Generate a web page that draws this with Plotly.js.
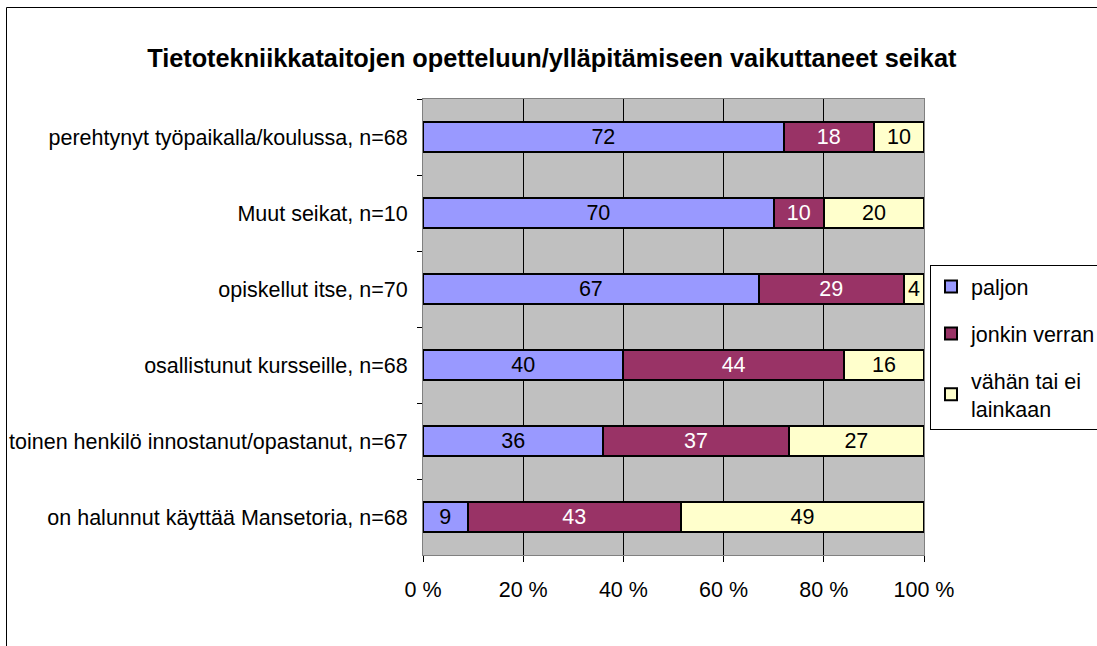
<!DOCTYPE html>
<html>
<head>
<meta charset="utf-8">
<script src="https://cdn.plot.ly/plotly-3.0.1.min.js"></script>
<style>
  html, body { margin: 0; padding: 0; background: #fff; overflow: hidden; }
  #chart { position: absolute; left: 0; top: 0; width: 1097px; height: 646px; }
</style>
</head>
<body>
<div id="chart"></div>
<script>
const categories = [
  "perehtynyt työpaikalla/koulussa, n=68",
  "Muut seikat, n=10",
  "opiskellut itse, n=70",
  "osallistunut kursseille, n=68",
  "toinen henkilö innostanut/opastanut, n=67",
  "on halunnut käyttää Mansetoria, n=68"
];
const paljon = [72, 70, 67, 40, 36, 9];
const jonkinVerran = [18, 10, 29, 44, 37, 43];
const vahanTaiEi = [10, 20, 4, 16, 27, 49];
const seriesNames = ["paljon", "jonkin verran", "vähän tai ei<br>lainkaan"];
const xTickVals = [0, 20, 40, 60, 80, 100];
const xTickText = ["0 %", "20 %", "40 %", "60 %", "80 %", "100 %"];
const titleText = "Tietotekniikkataitojen opetteluun/ylläpitämiseen vaikuttaneet seikat";

const FONT = "Liberation Sans, Arial, sans-serif";
const FS = 21.5;

function mk(name, vals, color, txtColor, group) {
  return {
    type: "bar",
    orientation: "h",
    name: name,
    y: categories,
    x: vals,
    text: vals.map(String),
    texttemplate: "%{text}",
    textposition: "inside",
    insidetextanchor: "middle",
    textangle: 0,
    constraintext: "none",
    textfont: { family: FONT, size: FS, color: txtColor },
    marker: { color: color, line: { color: "#000", width: 2 } },
    width: 0.4,
    legendgroup: group,
    hoverinfo: "skip"
  };
}

const data = [
  mk(seriesNames[0], paljon, "#9999FF", "#000", "a"),
  mk(seriesNames[1], jonkinVerran, "#993366", "#fff", "b"),
  mk(seriesNames[2], vahanTaiEi, "#FFFFCC", "#000", "c")
];

// plot area: x 423..924, y 99..555 (px); outer chart frame from (6,7), open to the right/bottom
const plotL = 423, plotR = 924, plotT = 99, plotB = 555;
const pw = plotR - plotL, ph = plotB - plotT;
const fx0 = (6.5 - plotL) / pw, fx1 = (1200 - plotL) / pw;
const fyTop = (plotB - 7.5) / ph, fyBot = (plotB - 800) / ph;

const layout = {
  width: 1097,
  height: 646,
  margin: { l: plotL, r: 1097 - plotR, t: plotT, b: 646 - plotB, autoexpand: false },
  paper_bgcolor: "#fff",
  plot_bgcolor: "#C0C0C0",
  barmode: "stack",
  barnorm: "percent",
  font: { family: FONT, size: FS, color: "#000" },
  title: {
    text: titleText,
    font: { family: FONT, size: 25.3, weight: "bold", color: "#000" },
    xref: "container", x: 0.503,
    yref: "container", y: 0.91, yanchor: "middle"
  },
  xaxis: {
    range: [0, 100],
    tickmode: "array",
    tickvals: xTickVals,
    ticktext: xTickText,
    showgrid: true,
    gridcolor: "#000",
    gridwidth: 1,
    zeroline: false,
    showline: true,
    linecolor: "#808080",
    linewidth: 1,
    mirror: true,
    ticks: "outside",
    ticklen: 6,
    tickcolor: "#000",
    ticklabelstandoff: 9,
    tickfont: { family: FONT, size: FS, color: "#000" },
    fixedrange: true
  },
  yaxis: {
    type: "category",
    autorange: "reversed",
    showgrid: false,
    zeroline: false,
    showline: true,
    linecolor: "#808080",
    linewidth: 1,
    mirror: true,
    ticks: "outside",
    tickson: "boundaries",
    ticklen: 5,
    tickcolor: "#000",
    ticklabelstandoff: 10,
    tickfont: { family: FONT, size: FS, color: "#000" },
    fixedrange: true
  },
  shapes: [{
    type: "path", xref: "paper", yref: "paper", layer: "below",
    path: "M" + fx0 + "," + fyBot + " L" + fx0 + "," + fyTop + " L" + fx1 + "," + fyTop,
    line: { color: "#000", width: 1 }, fillcolor: "rgba(0,0,0,0)"
  }],
  showlegend: true,
  legend: {
    x: (930 - plotL) / pw, xanchor: "left",
    y: (plotB - 265) / ph, yanchor: "top",
    bgcolor: "#fff",
    bordercolor: "#000",
    borderwidth: 1,
    traceorder: "grouped",
    tracegroupgap: 16,
    font: { family: FONT, size: FS, color: "#000" }
  }
};

Plotly.newPlot("chart", data, layout, { displayModeBar: false, staticPlot: true });
</script>
</body>
</html>
